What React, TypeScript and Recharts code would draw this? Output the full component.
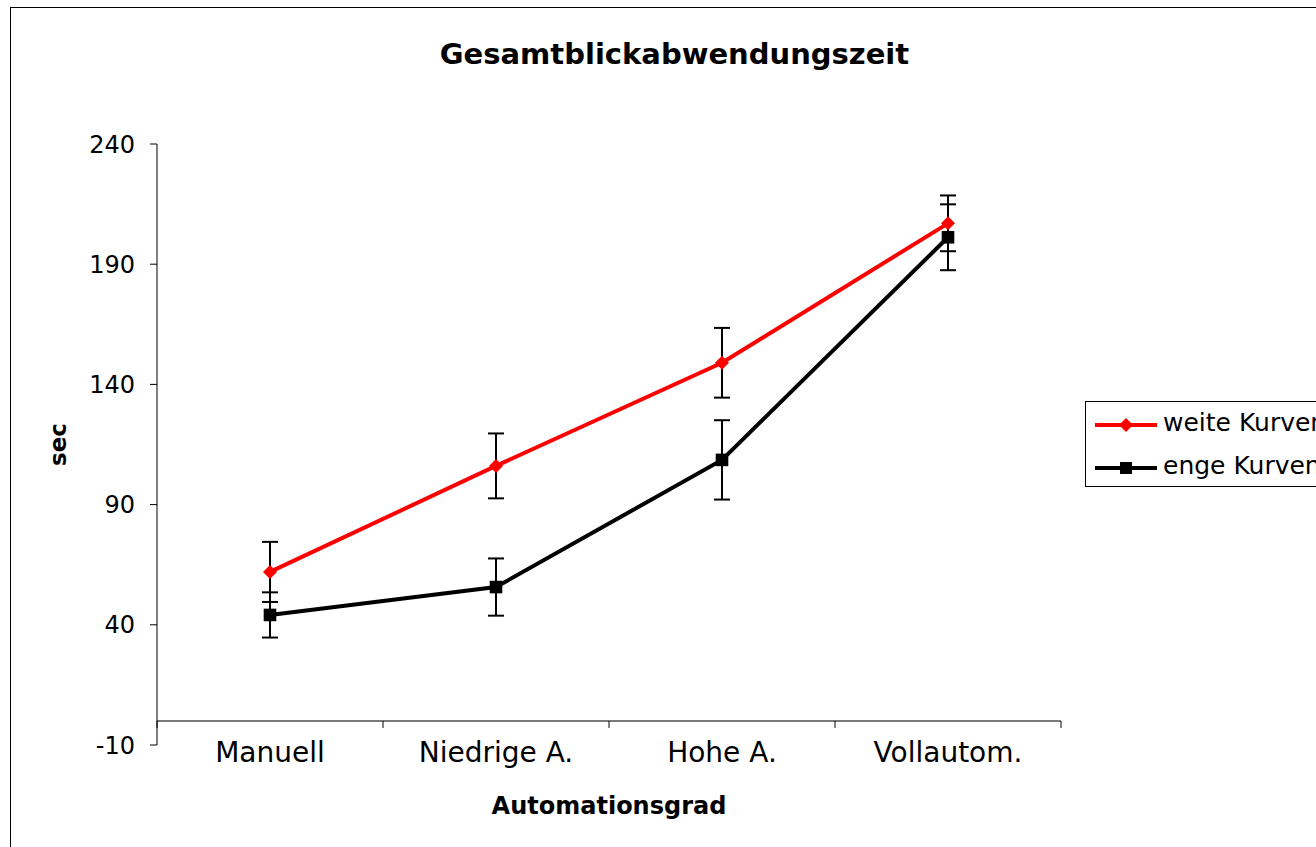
import React from 'react';
import { LineChart, Line, XAxis, YAxis, ErrorBar, ReferenceLine, Legend } from 'recharts';

const categories = ['Manuell', 'Niedrige A.', 'Hohe A.', 'Vollautom.'];
const weiteKurven = [62.0, 106.1, 149.0, 207.0];
const weiteKurvenError = [12.5, 13.5, 14.5, 11.6];
const engeKurven = [44.1, 55.7, 108.6, 201.2];
const engeKurvenError = [9.4, 11.9, 16.5, 13.7];
const yTicks = [-10, 40, 90, 140, 190, 240];
const categoryBoundaries = [0, 1, 2, 3, 4];
const categoryCenters = [0.5, 1.5, 2.5, 3.5];
const seriesNames = ['weite Kurven', 'enge Kurven'];
const titleText = 'Gesamtblickabwendungszeit';
const xTitle = 'Automationsgrad';
const yTitle = 'sec';

const data = categories.map((name, i) => ({
  pos: categoryCenters[i],
  name,
  weite: weiteKurven[i],
  weiteErr: weiteKurvenError[i],
  enge: engeKurven[i],
  engeErr: engeKurvenError[i],
}));

const FONT = "'DejaVu Sans', sans-serif";
const RED = '#FF0000';

const DiamondDot = (props: any) => {
  const { cx, cy, index } = props;
  if (cx == null || cy == null) return <g key={`dd-${index}`} />;
  const r = 7;
  return (
    <polygon
      key={`dd-${index}`}
      points={`${cx},${cy - r} ${cx + r},${cy} ${cx},${cy + r} ${cx - r},${cy}`}
      fill={RED}
    />
  );
};

const SquareDot = (props: any) => {
  const { cx, cy, index } = props;
  if (cx == null || cy == null) return <g key={`sd-${index}`} />;
  const r = 6.3;
  return <rect key={`sd-${index}`} x={cx - r} y={cy - r} width={2 * r} height={2 * r} fill="#000" />;
};

const YLabel = (props: any) => {
  const vb = props.viewBox || { x: 10, y: 144, width: 147, height: 601 };
  const x = vb.x + 48;
  const y = vb.y + vb.height / 2;
  return (
    <text
      x={x}
      y={y}
      transform={`rotate(-90, ${x}, ${y})`}
      textAnchor="middle"
      dominantBaseline="central"
      fontFamily={FONT}
      fontWeight="bold"
      fontSize={23}
      fill="#000"
    >
      {yTitle}
    </text>
  );
};

const LegendBox = () => {
  const rows = [
    { name: seriesNames[0], color: RED, shape: 'diamond', lineY: 23, textTop: 6 },
    { name: seriesNames[1], color: '#000', shape: 'square', lineY: 66, textTop: 49 },
  ];
  return (
    <div
      style={{
        position: 'relative',
        width: 280,
        height: 84,
        border: '1px solid #000',
        background: '#fff',
        fontFamily: FONT,
        fontSize: 25,
        color: '#000',
      }}
    >
      {rows.map((r) => (
        <React.Fragment key={r.name}>
          <svg
            width={64}
            height={16}
            style={{ position: 'absolute', left: 8, top: r.lineY - 8 }}
          >
            <line x1={1} y1={8} x2={63} y2={8} stroke={r.color} strokeWidth={4} />
            {r.shape === 'diamond' ? (
              <polygon points="32,1 39,8 32,15 25,8" fill={r.color} />
            ) : (
              <rect x={26} y={2} width={12} height={12} fill={r.color} />
            )}
          </svg>
          <div
            style={{
              position: 'absolute',
              left: 77,
              top: r.textTop,
              lineHeight: '30px',
              whiteSpace: 'nowrap',
            }}
          >
            {r.name}
          </div>
        </React.Fragment>
      ))}
    </div>
  );
};

export default function App() {
  return (
    <div
      style={{
        position: 'absolute',
        left: 0,
        top: 0,
        width: 1316,
        height: 847,
        overflow: 'hidden',
        background: '#fff',
      }}
    >
      <div
        style={{
          position: 'absolute',
          left: 10,
          top: 7,
          width: 1400,
          height: 1000,
          border: '1px solid #000',
        }}
      />
      <svg
        width={1316}
        height={100}
        style={{ position: 'absolute', left: 0, top: 0, pointerEvents: 'none' }}
      >
        <text
          x={674.5}
          y={64}
          textAnchor="middle"
          fontFamily={FONT}
          fontWeight="bold"
          fontSize={29}
          fill="#000"
        >
          {titleText}
        </text>
      </svg>
      <div style={{ position: 'absolute', left: 0, top: 0 }}>
        <LineChart
          width={1316}
          height={847}
          data={data}
          margin={{ top: 144, right: 255, bottom: 0, left: 10 }}
        >
          <XAxis
            type="number"
            dataKey="pos"
            domain={[0, 4]}
            ticks={categoryCenters}
            interval={0}
            tickFormatter={(v: number) => categories[Math.floor(v)]}
            axisLine={false}
            tickLine={false}
            tickSize={0}
            tickMargin={-3}
            height={102}
            tick={{ fontFamily: FONT, fontSize: 28, fill: '#000' }}
            label={{
              value: xTitle,
              position: 'insideTop',
              offset: 52,
              fontFamily: FONT,
              fontWeight: 'bold',
              fontSize: 24,
              fill: '#000',
            }}
          />
          <YAxis
            type="number"
            domain={[-10, 240]}
            ticks={yTicks}
            interval={0}
            width={147}
            tickSize={7}
            tickMargin={15}
            axisLine={{ stroke: '#000', strokeWidth: 1 }}
            tickLine={{ stroke: '#000', strokeWidth: 1 }}
            tick={{ fontFamily: FONT, fontSize: 24, fill: '#000' }}
            label={YLabel}
          />
          <ReferenceLine y={0} stroke="#7a7a7a" strokeWidth={2} />
          {categoryBoundaries.map((b) => (
            <ReferenceLine
              key={`b-${b}`}
              segment={[
                { x: b, y: 0 },
                { x: b, y: -2.9 },
              ]}
              stroke="#000"
              strokeWidth={1}
            />
          ))}
          <Line
            dataKey="weite"
            name={seriesNames[0]}
            stroke={RED}
            strokeWidth={4}
            dot={DiamondDot}
            activeDot={false}
            isAnimationActive={false}
          >
            <ErrorBar dataKey="weiteErr" direction="y" width={8} stroke="#000" strokeWidth={2} />
          </Line>
          <Line
            dataKey="enge"
            name={seriesNames[1]}
            stroke="#000"
            strokeWidth={4}
            dot={SquareDot}
            activeDot={false}
            isAnimationActive={false}
          >
            <ErrorBar dataKey="engeErr" direction="y" width={8} stroke="#000" strokeWidth={2} />
          </Line>
          <Legend
            layout="horizontal"
            align="center"
            verticalAlign="middle"
            content={LegendBox}
            wrapperStyle={{ left: 1085, top: 401, width: 290, height: 86 }}
          />
        </LineChart>
      </div>
    </div>
  );
}
